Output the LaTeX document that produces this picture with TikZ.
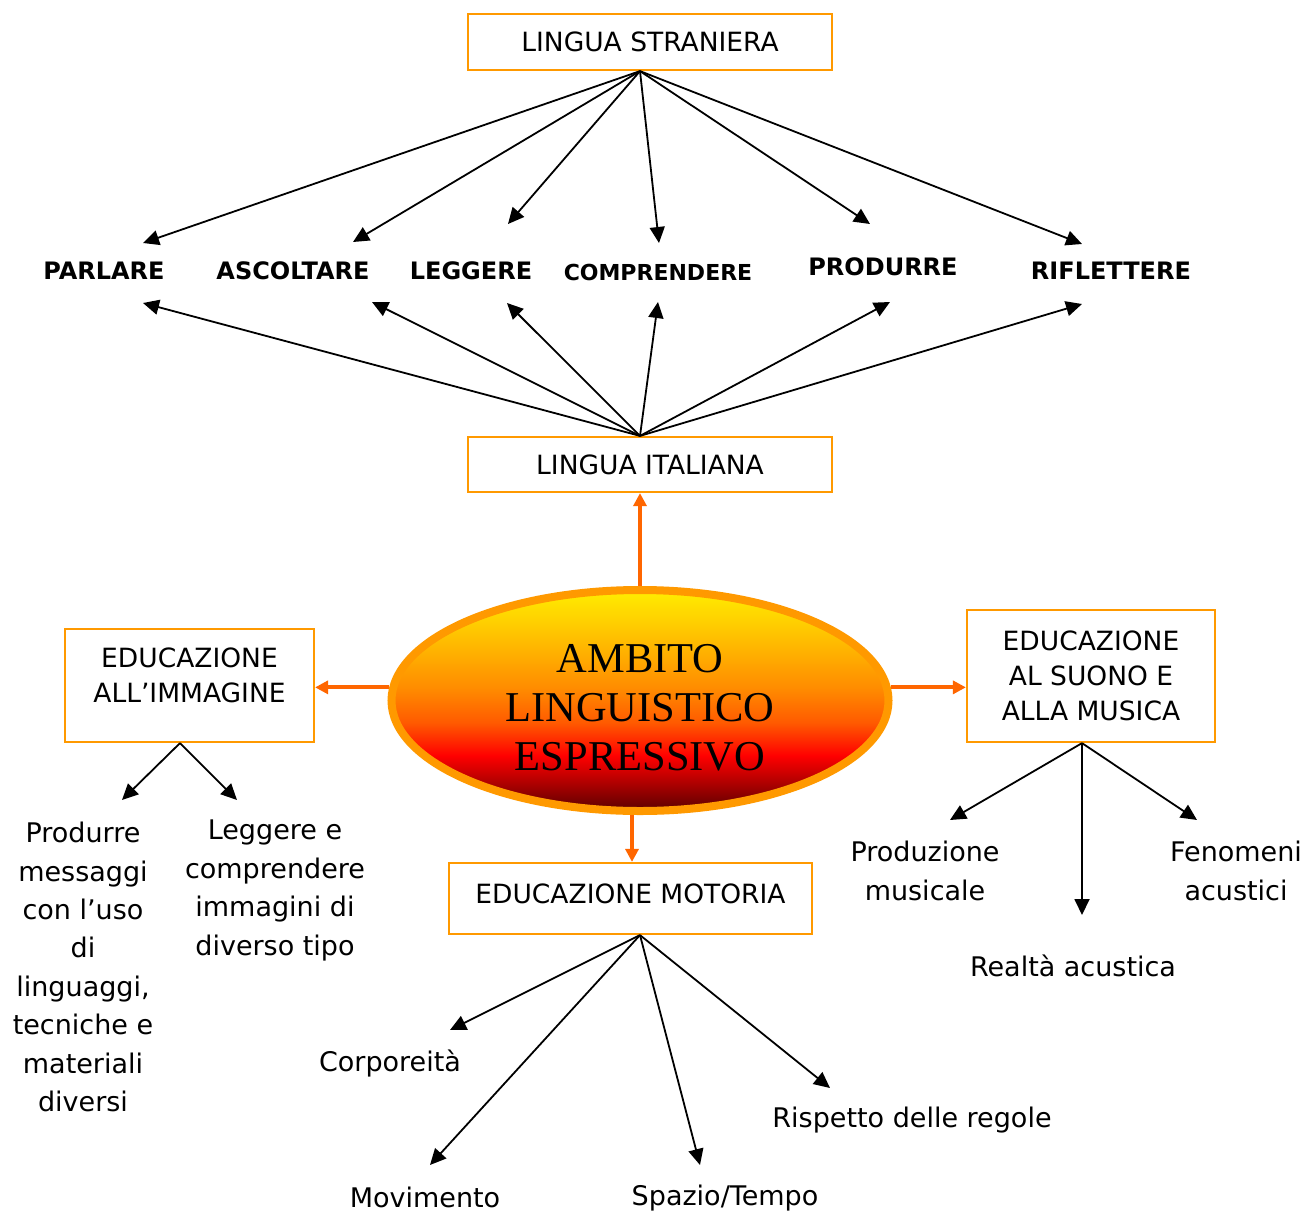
\documentclass[tikz,border=0pt]{standalone}
\usepackage{fontspec}
\setmainfont{DejaVu Sans}
\newfontfamily\ambitofont{Liberation Serif}
\usetikzlibrary{arrows.meta,shapes.geometric}
\definecolor{boxor}{HTML}{FF9900}
\definecolor{arror}{HTML}{FF6600}
\definecolor{shA}{HTML}{5A0000}
\definecolor{shB}{HTML}{B00000}
\definecolor{shC}{HTML}{FF0000}
\definecolor{shD}{HTML}{FF5A00}
\definecolor{shE}{HTML}{FF8A00}
\definecolor{shF}{HTML}{FFB800}
\definecolor{shG}{HTML}{FFEE00}
\pgfdeclareverticalshading{ambito}{100bp}{color(0bp)=(shA); color(25bp)=(shA); color(31.5bp)=(shB); color(37.5bp)=(shC); color(45bp)=(shD); color(52.5bp)=(shE); color(62.5bp)=(shF); color(75bp)=(shG); color(100bp)=(shG)}
\tikzset{
  box/.style={draw=boxor, line width=2.2pt, inner sep=0pt, align=center,
    font=\fontsize{26.5}{35}\selectfont},
  verb/.style={inner sep=0pt, font=\bfseries\fontsize{24}{28}\selectfont},
  leaf/.style={inner sep=0pt, align=center, font=\fontsize{27}{38.4}\selectfont},
  blk/.style={-{Triangle[length=16pt,width=15pt]}, line width=1.8pt, draw=black},
  org/.style={-{Triangle[length=13pt,width=13pt]}, line width=4pt, draw=arror},
}
\begin{document}
\begin{tikzpicture}[x=1pt,y=-1pt]
\useasboundingbox (0,0) rectangle (1310,1213);
\fill[white] (0,0) rectangle (1310,1213);

% boxes
\node[box, minimum width=364pt, minimum height=56pt] (str) at (650,42) {LINGUA STRANIERA};
\node[box, minimum width=364pt, minimum height=55pt] (lit) at (650,464.5) {LINGUA ITALIANA};
\node[box, minimum width=249pt, minimum height=113pt] (img) at (189.5,685.5) {};
\node[box, draw=none] (imgtxt) at (189.5,675) {EDUCAZIONE\\ALL’IMMAGINE};
\node[box, minimum width=248pt, minimum height=132pt] (suo) at (1091,676) {EDUCAZIONE\\AL SUONO E\\ALLA MUSICA};
\node[box, minimum width=363pt, minimum height=71pt] (mot) at (630.5,898.5) {EDUCAZIONE MOTORIA\rule[-10pt]{0pt}{10pt}};

% central ellipse
\node[ellipse, shading=ambito, draw=boxor, line width=8pt, minimum width=497pt, minimum height=221pt,
  inner sep=0pt, align=center, font=\ambitofont\fontsize{42.5}{49}\selectfont] (ell) at (640,700.5)
  {\rule{0pt}{42pt}AMBITO\\LINGUISTICO\\ESPRESSIVO};

% verbs
\node[verb] (par) at (104,271) {PARLARE};
\node[verb] (asc) at (293,271) {ASCOLTARE};
\node[verb] (leg) at (471,271) {LEGGERE};
\node[verb, font=\bfseries\fontsize{22}{26}\selectfont] (com) at (658,272) {COMPRENDERE};
\node[verb] (pro) at (883,267) {PRODURRE};
\node[verb] (rif) at (1111,271) {RIFLETTERE};

% leaves
\node[leaf] (prm) at (83,967) {Produrre\\messaggi\\con l’uso\\di\\linguaggi,\\tecniche e\\materiali\\diversi};
\node[leaf] (lec) at (275,890.5) {Leggere e\\comprendere\\immagini di\\diverso tipo};
\node[leaf] (pmu) at (925,871) {Produzione\\musicale};
\node[leaf] (rea) at (1073,966) {Realtà acustica};
\node[leaf] (fen) at (1236,871) {Fenomeni\\acustici};
\node[leaf] (cor) at (390,1063) {Corporeità};
\node[leaf] (mov) at (425,1197) {Movimento};
\node[leaf] (spa) at (725,1198) {Spazio/Tempo};
\node[leaf] (ris) at (912,1120) {Rispetto delle regole};

% connector origins
\coordinate (strb) at ([xshift=-10pt]str.south);
\coordinate (litt) at ([xshift=-10pt]lit.north);
\coordinate (imgb) at ([xshift=-9.5pt]img.south);
\coordinate (suob) at ([xshift=-9pt]suo.south);
\coordinate (motb) at ([xshift=9.5pt]mot.south);

% arrow tips
\coordinate (parU) at (143,243);
\coordinate (ascU) at (353,242);
\coordinate (legU) at (508,224);
\coordinate (comU) at (659,243);
\coordinate (proU) at (870,224);
\coordinate (rifU) at (1082,244);
\coordinate (parD) at (143,303);
\coordinate (ascD) at (372,302);
\coordinate (legD) at (507,303);
\coordinate (comD) at (658,302);
\coordinate (proD) at (890,302);
\coordinate (rifD) at (1082,304);
\coordinate (prmT) at (122,800);
\coordinate (lecT) at (237,800);
\coordinate (pmuT) at (950,820);
\coordinate (reaT) at (1082,915);
\coordinate (fenT) at (1197,820);
\coordinate (corT) at (450,1030);
\coordinate (movT) at (430,1165);
\coordinate (spaT) at (700,1165);
\coordinate (risT) at (830,1088);

% black arrows
\foreach \t in {parU,ascU,legU,comU,proU,rifU} \draw[blk] (strb) -- (\t);
\foreach \t in {parD,ascD,legD,comD,proD,rifD} \draw[blk] (litt) -- (\t);
\foreach \t in {prmT,lecT} \draw[blk] (imgb) -- (\t);
\foreach \t in {pmuT,reaT,fenT} \draw[blk] (suob) -- (\t);
\foreach \t in {corT,movT,spaT,risT} \draw[blk] (motb) -- (\t);

% orange arrows
\draw[org] (ell.north) -- (ell.north |- lit.south);
\draw[org] (ell.177) -- (ell.177 -| img.east);
\draw[org] (ell.3) -- (ell.3 -| suo.west);
\draw[org] (ell.266) -- (ell.266 |- mot.north);
\end{tikzpicture}
\end{document}
